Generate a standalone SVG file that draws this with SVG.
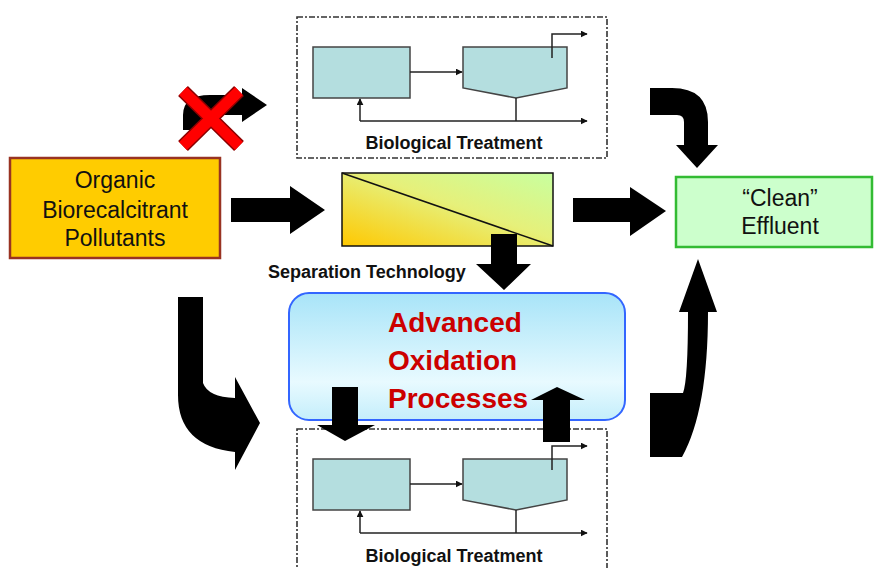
<svg xmlns="http://www.w3.org/2000/svg" width="876" height="568" viewBox="0 0 876 568">
  <defs>
    <linearGradient id="sepGrad" x1="0" y1="1" x2="1" y2="0">
      <stop offset="0" stop-color="#FFC800"/>
      <stop offset="0.55" stop-color="#E6F07A"/>
      <stop offset="1" stop-color="#C8FFA0"/>
    </linearGradient>
    <linearGradient id="aopGrad" x1="0" y1="0" x2="0" y2="1">
      <stop offset="0" stop-color="#A8E4F8"/>
      <stop offset="0.7" stop-color="#E8FAFF"/>
      <stop offset="1" stop-color="#C4EEFB"/>
    </linearGradient>
    <marker id="tip" viewBox="0 0 10 10" refX="9" refY="5" markerWidth="7" markerHeight="7" markerUnits="userSpaceOnUse" orient="auto">
      <path d="M0,0 L10,5 L0,10 Z" fill="#111"/>
    </marker>
    <g id="bioUnit">
      <rect x="297" y="17" width="310" height="141" class="dash"/>
      <rect x="313" y="47" width="97" height="51" class="tank"/>
      <path d="M463,47 L567,47 L567,88 L516,98 L463,88 Z" class="tank"/>
      <path d="M410,72 L462,72" class="pipe" marker-end="url(#tip)"/>
      <path d="M552,58 L552,34 L587,34" class="pipe" marker-end="url(#tip)"/>
      <path d="M516,98 L516,121" class="pipe"/>
      <path d="M360,121 L587,121" class="pipe" marker-end="url(#tip)"/>
      <path d="M360,121 L360,99" class="pipe" marker-end="url(#tip)"/>
    </g>
  </defs>
  <style>
    .dash { fill: none; stroke: #333; stroke-width: 1.6; stroke-dasharray: 6 2 2 2; }
    .tank { fill: #B4DEDF; stroke: #444; stroke-width: 1.5; }
    .pipe { fill: none; stroke: #222; stroke-width: 1.5; }
    .big { fill: #000; }
    .label { font-family: "Liberation Sans", Arial, sans-serif; font-size: 23px; fill: #111; text-anchor: middle; }
    .cap { font-family: "Liberation Sans", Arial, sans-serif; font-weight: bold; font-size: 18px; fill: #111; }
    .aop { font-family: "Liberation Sans", Arial, sans-serif; font-weight: bold; font-size: 28px; fill: #CC0000; }
  </style>

  <rect width="876" height="568" fill="#fff"/>

  <!-- biological treatment stage above -->
  <g id="bio-top">
    <use href="#bioUnit"/>
    <text class="cap" x="454" y="149" text-anchor="middle">Biological Treatment</text>
  </g>

  <!-- biological treatment stage below -->
  <g id="bio-bottom">
    <use href="#bioUnit" transform="translate(0,412)"/>
    <text class="cap" x="454" y="562" text-anchor="middle">Biological Treatment</text>
  </g>

  <g id="pollutants">
    <rect x="10" y="158" width="210" height="100" fill="#FFCC00" stroke="#993322" stroke-width="2.5"/>
    <text class="label" x="115" y="188">Organic</text>
    <text class="label" x="115" y="218">Biorecalcitrant</text>
    <text class="label" x="115" y="246">Pollutants</text>
  </g>

  <g id="separation">
    <rect x="342" y="173" width="211" height="73" fill="url(#sepGrad)" stroke="#111" stroke-width="1.5"/>
    <path d="M342,173 L553,246" stroke="#111" stroke-width="1.5"/>
    <text class="cap" x="268" y="278">Separation Technology</text>
  </g>

  <g id="effluent">
    <rect x="676" y="177" width="196" height="70" fill="#CCFFCC" stroke="#33BB33" stroke-width="2.5"/>
    <text class="label" x="780" y="206">“Clean”</text>
    <text class="label" x="780" y="234">Effluent</text>
  </g>

  <g id="aop">
    <rect x="289" y="293" width="336" height="127" rx="20" ry="20" fill="url(#aopGrad)" stroke="#3366FF" stroke-width="2"/>
    <text class="aop" x="388" y="332">Advanced</text>
    <text class="aop" x="388" y="370">Oxidation</text>
    <text class="aop" x="388" y="408">Processes</text>
  </g>

  <!-- block arrows -->
  <g id="connectors">
    <!-- pollutants to separation -->
    <path class="big" d="M231,198 L290,198 L290,186 L325,210 L290,234 L290,222 L231,222 Z"/>
    <!-- separation to effluent -->
    <path class="big" d="M573,198 L630,198 L630,187 L666,211 L630,236 L630,222 L573,222 Z"/>
    <!-- separation down to AOP -->
    <path class="big" d="M491,234 L517,234 L517,264 L531,264 L504,290 L476,264 L491,264 Z"/>
    <!-- AOP down into biological stage -->
    <path class="big" d="M332,387 L358,387 L358,425 L375,425 L345,441 L317,425 L332,425 Z"/>
    <!-- biological stage back up to AOP -->
    <path class="big" d="M543,442 L570,442 L570,400 L585,400 L557,387 L531,400 L543,400 Z"/>
    <!-- top biological stage to effluent -->
    <path class="big" d="M650,88 L672,88 Q708,88 708,122 L708,145 L718,145 L697,168 L676,145 L684,145 L684,122 Q684,115 677,115 L650,115 Z"/>
    <!-- pollutants down to AOP / lower stage -->
    <path class="big" d="M178,297 L203,297 L203,383 Q208,397 235,398 L235,377 L260,423 L235,470 L235,452 Q178,446 178,395 Z"/>
    <!-- lower stage up to effluent -->
    <path class="big" d="M650,393 L683,393 Q688,380 688,312 L679,312 L698,259 L717,312 L708,312 Q708,410 682,457 L650,457 Z"/>
    <!-- blocked route: pollutants directly to biological treatment -->
    <path class="big" d="M183,130 L183,115 Q183,95 210,95 L242,95 L242,88 L267,105 L242,122 L242,115 L215,115 Q203,115 203,130 Z"/>
    <g id="blocked-mark">
      <path d="M183,91 L239,146 M239,91 L183,146" stroke="#8B0000" stroke-width="14"/>
      <path d="M183,91 L239,146 M239,91 L183,146" stroke="#FF0000" stroke-width="11"/>
    </g>
  </g>
</svg>
